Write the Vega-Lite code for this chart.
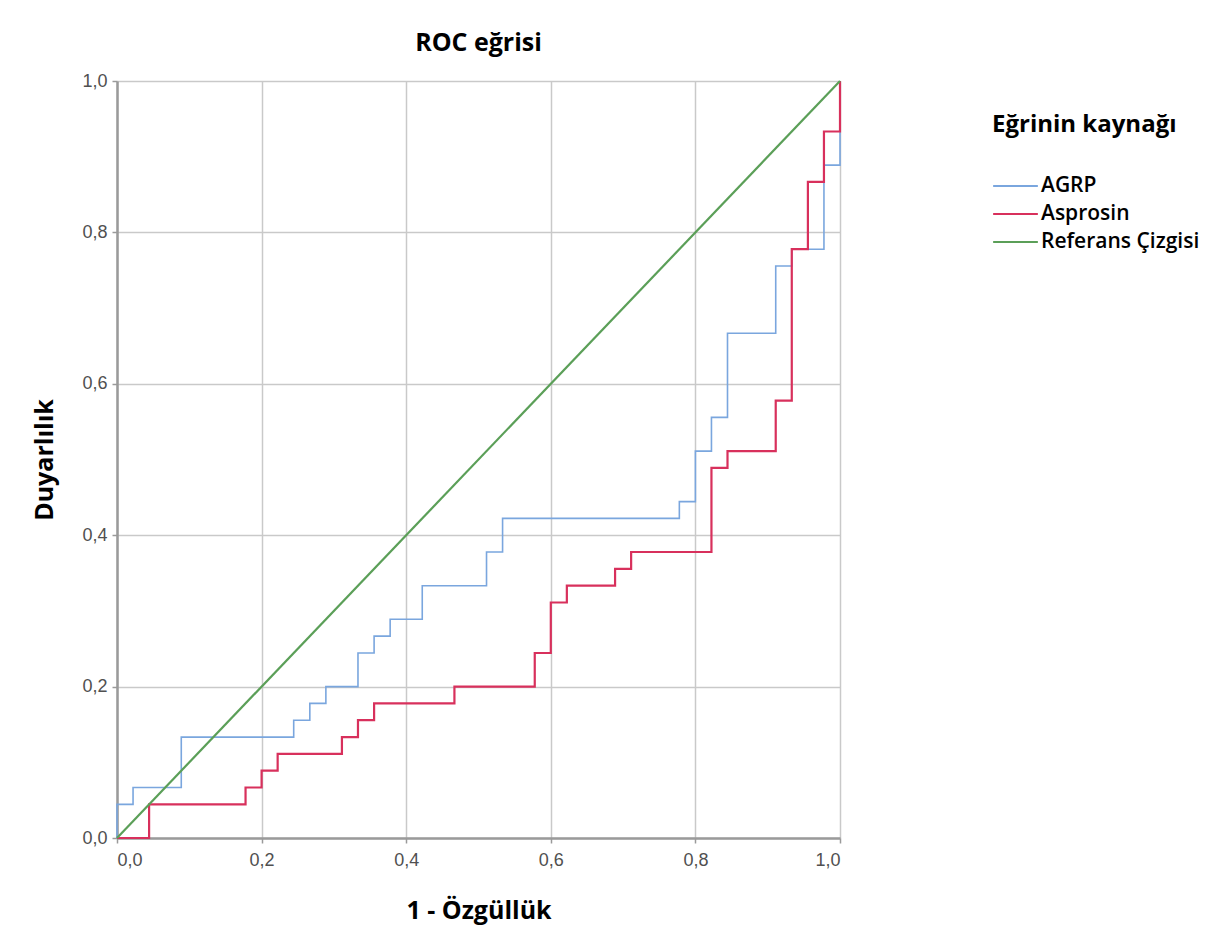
{
  "$schema": "https://vega.github.io/schema/vega-lite/v6.json",
  "width": 723,
  "height": 757,
  "autosize": {"type": "none"},
  "padding": {"left": 117, "top": 81, "right": 380, "bottom": 107},
  "background": "white",
  "title": {"text": "ROC eğrisi", "font": "Open Sans", "fontSize": 25, "fontWeight": "bold", "color": "black", "offset": 16, "anchor": "middle"},
  "data": {"values": [
    {"s": "AGRP", "o": 0, "x": 0, "y": 0},
    {"s": "AGRP", "o": 1, "x": 0, "y": 0.0444},
    {"s": "AGRP", "o": 2, "x": 0.0222, "y": 0.0667},
    {"s": "AGRP", "o": 3, "x": 0.0889, "y": 0.1333},
    {"s": "AGRP", "o": 4, "x": 0.2444, "y": 0.1556},
    {"s": "AGRP", "o": 5, "x": 0.2667, "y": 0.1778},
    {"s": "AGRP", "o": 6, "x": 0.2889, "y": 0.2},
    {"s": "AGRP", "o": 7, "x": 0.3333, "y": 0.2444},
    {"s": "AGRP", "o": 8, "x": 0.3556, "y": 0.2667},
    {"s": "AGRP", "o": 9, "x": 0.3778, "y": 0.2889},
    {"s": "AGRP", "o": 10, "x": 0.4222, "y": 0.3333},
    {"s": "AGRP", "o": 11, "x": 0.5111, "y": 0.3778},
    {"s": "AGRP", "o": 12, "x": 0.5333, "y": 0.4222},
    {"s": "AGRP", "o": 13, "x": 0.7778, "y": 0.4444},
    {"s": "AGRP", "o": 14, "x": 0.8, "y": 0.5111},
    {"s": "AGRP", "o": 15, "x": 0.8222, "y": 0.5556},
    {"s": "AGRP", "o": 16, "x": 0.8444, "y": 0.6667},
    {"s": "AGRP", "o": 17, "x": 0.9111, "y": 0.7556},
    {"s": "AGRP", "o": 18, "x": 0.9333, "y": 0.7778},
    {"s": "AGRP", "o": 19, "x": 0.9778, "y": 0.8889},
    {"s": "AGRP", "o": 20, "x": 1, "y": 1},
    {"s": "Asprosin", "o": 0, "x": 0, "y": 0},
    {"s": "Asprosin", "o": 1, "x": 0.0444, "y": 0.0444},
    {"s": "Asprosin", "o": 2, "x": 0.1778, "y": 0.0667},
    {"s": "Asprosin", "o": 3, "x": 0.2, "y": 0.0889},
    {"s": "Asprosin", "o": 4, "x": 0.2222, "y": 0.1111},
    {"s": "Asprosin", "o": 5, "x": 0.3111, "y": 0.1333},
    {"s": "Asprosin", "o": 6, "x": 0.3333, "y": 0.1556},
    {"s": "Asprosin", "o": 7, "x": 0.3556, "y": 0.1778},
    {"s": "Asprosin", "o": 8, "x": 0.4667, "y": 0.2},
    {"s": "Asprosin", "o": 9, "x": 0.5778, "y": 0.2444},
    {"s": "Asprosin", "o": 10, "x": 0.6, "y": 0.3111},
    {"s": "Asprosin", "o": 11, "x": 0.6222, "y": 0.3333},
    {"s": "Asprosin", "o": 12, "x": 0.6889, "y": 0.3556},
    {"s": "Asprosin", "o": 13, "x": 0.7111, "y": 0.3778},
    {"s": "Asprosin", "o": 14, "x": 0.8222, "y": 0.4889},
    {"s": "Asprosin", "o": 15, "x": 0.8444, "y": 0.5111},
    {"s": "Asprosin", "o": 16, "x": 0.9111, "y": 0.5778},
    {"s": "Asprosin", "o": 17, "x": 0.9333, "y": 0.7778},
    {"s": "Asprosin", "o": 18, "x": 0.9556, "y": 0.8667},
    {"s": "Asprosin", "o": 19, "x": 0.9778, "y": 0.9333},
    {"s": "Asprosin", "o": 20, "x": 1, "y": 1},
    {"s": "Referans Çizgisi", "o": 0, "x": 0, "y": 0},
    {"s": "Referans Çizgisi", "o": 1, "x": 1, "y": 1}
  ]},
  "encoding": {
    "x": {"field": "x", "type": "quantitative", "scale": {"domain": [0, 1], "nice": false, "zero": false},
      "axis": {"title": "1 - Özgüllük", "values": [0, 0.2, 0.4, 0.6, 0.8, 1], "labelExpr": "replace(format(datum.value, '.1f'), '.', ',')", "titlePadding": 29}},
    "y": {"field": "y", "type": "quantitative", "scale": {"domain": [0, 1], "nice": false, "zero": false},
      "axis": {"title": "Duyarlılık", "values": [0, 0.2, 0.4, 0.6, 0.8, 1], "labelExpr": "replace(format(datum.value, '.1f'), '.', ',')", "titlePadding": 24}},
    "color": {"field": "s", "type": "nominal",
      "scale": {"domain": ["AGRP", "Asprosin", "Referans Çizgisi"], "range": ["#7aa6de", "#d8305c", "#5b9f58"]},
      "legend": {"title": "Eğrinin kaynağı", "orient": "none", "legendX": 875, "legendY": 32, "symbolType": "stroke", "symbolSize": 2000, "symbolStrokeWidth": 2, "clipHeight": 22, "rowPadding": 6, "labelOffset": 2, "titlePadding": 38, "titleLimit": 400, "labelLimit": 400}},
    "order": {"field": "o", "type": "quantitative"}
  },
  "layer": [
    {
      "transform": [{"filter": "datum.s !== 'Referans Çizgisi'"}],
      "mark": {"type": "line", "interpolate": "step-after", "clip": false},
      "encoding": {
        "strokeWidth": {"field": "s", "type": "nominal", "scale": {"domain": ["AGRP", "Asprosin"], "range": [1.6, 2.2]}, "legend": null}
      }
    },
    {
      "transform": [{"filter": "datum.s === 'Referans Çizgisi'"}],
      "mark": {"type": "line", "interpolate": "linear", "strokeWidth": 2.2, "clip": false},
      "encoding": {}
    }
  ],
  "config": {
    "view": {"stroke": null},
    "axis": {
      "grid": true, "gridColor": "#c9c9c9", "gridWidth": 1.5,
      "domainColor": "#9a9a9a", "domainWidth": 2.5,
      "tickColor": "#9a9a9a", "tickSize": 5, "tickWidth": 1.5,
      "labelFont": "Liberation Sans", "labelFontSize": 18, "labelColor": "#505050", "labelPadding": 5,
      "titleFont": "Open Sans", "titleFontSize": 25, "titleFontWeight": "bold", "titleColor": "black"
    },
    "axisX": {"labelPadding": 8},
    "legend": {
      "titleFont": "Open Sans", "titleFontSize": 24, "titleFontWeight": "bold", "titleColor": "black",
      "labelFont": "Open Sans", "labelFontSize": 21, "labelFontWeight": 600, "labelColor": "black"
    }
  }
}
